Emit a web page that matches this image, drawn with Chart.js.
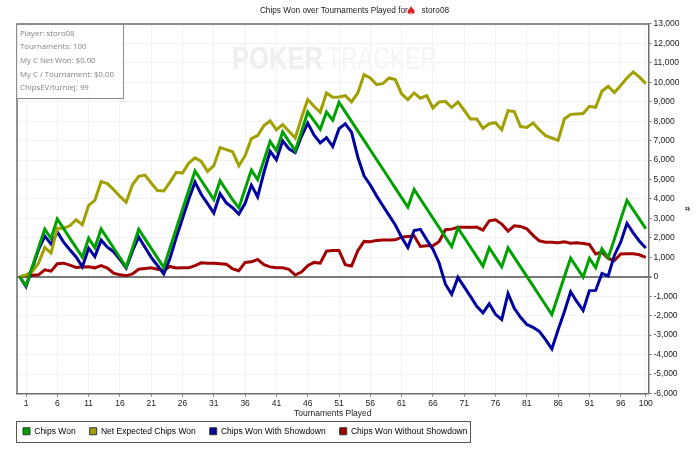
<!DOCTYPE html>
<html>
<head>
<meta charset="utf-8">
<title>Chips Won over Tournaments Played</title>
<script src="https://cdn.jsdelivr.net/npm/chart.js@4/dist/chart.umd.min.js"></script>
<style>
    html, body { margin: 0; padding: 0; background: #fff; }
    #chartBox { width: 700px; height: 454px; }
</style>
</head>
<body>
<div id="chartBox"><canvas id="chipsChart" width="700" height="454"></canvas></div>
<script>
// Chart data
const tournaments = [0,1,2,3,4,5,6,7,8,9,10,11,12,13,14,15,16,17,18,19,20,21,22,23,24,25,26,27,28,29,30,31,32,33,34,35,36,37,38,39,40,41,42,43,44,45,46,47,48,49,50,51,52,53,54,55,56,57,58,59,60,61,62,63,64,65,66,67,68,69,70,71,72,73,74,75,76,77,78,79,80,81,82,83,84,85,86,87,88,89,90,91,92,93,94,95,96,97,98,99,100];
const chipsWon = [0,-450,520,1490,2450,1970,2970,2480,1990,1500,1010,1980,1490,2460,1970,1480,990,500,1470,2440,1950,1460,970,480,1480,2470,3460,4450,5440,4950,4460,3970,4940,4450,3960,3540,4520,5480,5000,5980,6960,6480,7450,6960,6480,7450,8470,8030,7580,8470,8050,8970,8480,7990,7500,7010,6520,6030,5540,5050,4560,4070,3580,4490,4000,3510,3020,2530,2040,1550,2510,2020,1530,1040,550,1490,1000,510,1490,1000,510,20,-470,-960,-1450,-1940,-970,0,960,470,-20,950,470,1440,980,1950,2950,3930,3440,2960,2480];
const netExpected = [0,100,270,700,1510,1220,2500,2500,2620,2930,2680,3670,3930,4890,4790,4480,4130,3830,4730,5160,5230,4820,4430,4410,4870,5370,5330,5850,6110,5930,5420,5710,6640,6535,6430,5710,6225,7100,7255,7770,8010,7550,7820,7480,7135,8165,9110,8765,8460,9450,9230,9245,9310,8990,9450,10395,10220,9880,9930,10220,10140,9400,9110,9450,9180,9310,8680,8990,9020,8700,8990,8560,8110,8110,7630,7870,7920,7560,8540,8490,7720,7680,7910,7560,7255,7135,7015,8110,8350,8370,8390,8765,8710,9540,9790,9470,9830,10220,10530,10260,9930];
const withShowdown = [0,-500,440,1390,2090,1680,2300,1780,1390,1020,510,1470,1030,1880,1520,1290,890,450,1320,2050,1520,1000,580,150,950,2020,3000,3990,4870,4230,3760,3280,4270,3800,3550,3230,3780,4710,4110,5360,6450,6020,6990,6580,6390,7210,7900,7290,6880,7150,6695,7615,7860,7440,6160,5190,4720,4160,3650,3160,2660,2030,1505,2380,2440,1910,1420,710,-380,-900,-30,-520,-1010,-1515,-1850,-1390,-1930,-2200,-860,-1620,-2080,-2450,-2600,-2810,-3230,-3710,-2720,-1800,-770,-1280,-1735,-710,-700,170,40,1110,1780,2750,2260,1830,1480];
const withoutShowdown = [0,50,80,100,360,290,670,700,600,480,500,510,460,580,450,190,100,50,150,390,430,460,390,330,530,450,460,460,570,720,700,690,670,650,410,310,740,770,890,620,510,460,460,380,90,240,570,740,700,1320,1355,1355,620,550,1340,1820,1800,1870,1890,1890,1900,2040,2075,2110,1560,1600,1600,1820,2420,2450,2540,2540,2540,2555,2400,2880,2930,2710,2350,2620,2590,2470,2130,1850,1780,1770,1750,1800,1730,1750,1715,1660,1170,1270,940,840,1170,1180,1180,1130,1000];

const xTickValues = [1,6,11,16,21,26,31,36,41,46,51,56,61,66,71,76,81,86,91,96,100];
const seriesNames = ['Chips Won', 'Net Expected Chips Won', 'Chips Won With Showdown', 'Chips Won Without Showdown'];
const seriesColors = ['#00a000', '#a0a000', '#0000a0', '#a00000'];
const infoLines = ['Player: storo08', 'Tournaments: 100', 'My C Net Won: $0.00', 'My C / Tournament: $0.00', 'ChipsEV/turniej: 99'];

const titlePrefix = 'Chips Won over Tournaments Played for ';
const titleText = titlePrefix + '     storo08';
const axisFont = 'Liberation Sans';
const axisFontSize = 8.5;
const titleFontSize = 8.25;

function toPoints(values) {
    return values.map((v, i) => ({ x: tournaments[i], y: v }));
}

// Watermark under the lines, title spade and stats box over them
const decorations = {
    id: 'decorations',
    beforeDatasetsDraw(chart) {
        const ctx = chart.ctx;
        ctx.save();
        ctx.textBaseline = 'alphabetic';
        ctx.textAlign = 'left';
        ctx.fillStyle = '#eeeeee';
        ctx.font = 'bold 32px "Liberation Sans"';
        ctx.fillText('POKER', 232, 69, 91);
        ctx.fillStyle = '#f5f5f5';
        ctx.font = '32px "Liberation Sans"';
        ctx.fillText('TRACKER', 327, 69, 110);
        ctx.restore();
    },
    afterDraw(chart) {
        const ctx = chart.ctx;
        const area = chart.chartArea;
        ctx.save();

        // frame of the plot
        ctx.strokeStyle = '#6e6e6e';
        ctx.lineWidth = 1.5;
        ctx.beginPath();
        ctx.moveTo(area.left, area.bottom);
        ctx.lineTo(area.left, area.top);
        ctx.lineTo(area.right, area.top);
        ctx.stroke();

        // red spade inside the title
        ctx.font = titleFontSize + 'px "Liberation Sans"';
        const fullWidth = ctx.measureText(titleText).width;
        const spadeX = chart.width / 2 - fullWidth / 2 + ctx.measureText(titlePrefix).width;
        ctx.fillStyle = '#d9201c';
        ctx.font = '12px "DejaVu Sans"';
        ctx.textBaseline = 'middle';
        ctx.textAlign = 'left';
        ctx.fillText('\u2660', spadeX, 11.5);

        // stats box
        ctx.fillStyle = 'rgba(255,255,255,0.85)';
        ctx.fillRect(17, 24, 106.5, 74.5);
        ctx.strokeStyle = '#8c8c8c';
        ctx.lineWidth = 1;
        ctx.strokeRect(16.5, 24.5, 107, 74);
        ctx.fillStyle = '#85808c';
        ctx.font = '7.8px "Open Sans"';
        infoLines.forEach((line, i) => {
            ctx.fillText(line, 20, 33.5 + i * 13.6);
        });

        // frame of the legend
        ctx.strokeStyle = '#555';
        ctx.lineWidth = 1;
        ctx.strokeRect(16.5, 421.5, 454, 21);
        ctx.restore();
    },
    afterLayout(chart) {
        // legend row sits inside its own frame
        const pad = chart.legend.options.labels.padding;
        chart.legend.top = 432 - 5 - pad;
        chart.legend.left = 23 - pad;
    }
};

const chipsChart = new Chart(document.getElementById('chipsChart').getContext('2d'), {
    type: 'line',
    data: {
        datasets: [chipsWon, netExpected, withShowdown, withoutShowdown].map((values, i) => ({
            label: seriesNames[i],
            data: toPoints(values),
            borderColor: seriesColors[i],
            backgroundColor: seriesColors[i],
            borderWidth: 3,
            borderJoinStyle: 'miter',
            pointRadius: 0,
            tension: 0,
            fill: false
        }))
    },
    options: {
        responsive: false,
        animation: false,
        layout: { padding: { left: 17, right: 8, top: 0, bottom: 1 } },
        plugins: {
            tooltip: { enabled: false },
            title: {
                display: true,
                text: titleText,
                color: '#222',
                font: { family: axisFont, size: titleFontSize, weight: 'normal' },
                padding: { top: 6, bottom: 8 }
            },
            legend: {
                position: 'bottom',
                align: 'start',
                labels: {
                    color: '#222',
                    font: { family: axisFont, size: axisFontSize },
                    boxWidth: 7,
                    boxHeight: 7,
                    padding: 14,
                    generateLabels: chart => chart.data.datasets.map((d, i) => ({
                        text: d.label,
                        fillStyle: seriesColors[i],
                        strokeStyle: '#333',
                        lineWidth: 1,
                        datasetIndex: i
                    }))
                }
            }
        },
        scales: {
            x: {
                type: 'linear',
                min: -0.44,
                max: 100.44,
                afterBuildTicks: axis => { axis.ticks = xTickValues.map(v => ({ value: v })); },
                afterFit: axis => { axis.height = 27; },
                ticks: {
                    autoSkip: false,
                    maxRotation: 0,
                    padding: 2,
                    color: '#222',
                    font: { family: axisFont, size: axisFontSize },
                    callback: v => String(v)
                },
                grid: { color: '#f2f2f2', tickColor: '#6e6e6e', tickLength: 3, lineWidth: 1 },
                border: { color: '#6e6e6e', width: 1.5 },
                title: {
                    display: true,
                    text: 'Tournaments Played',
                    color: '#222',
                    font: { family: axisFont, size: axisFontSize },
                    padding: { top: 0, bottom: 1.5 }
                }
            },
            y: {
                position: 'right',
                min: -6000,
                max: 13000,
                afterFit: axis => { axis.width = 43.5; },
                ticks: {
                    stepSize: 1000,
                    padding: 2,
                    color: '#222',
                    font: { family: axisFont, size: axisFontSize },
                    callback: v => v.toLocaleString('en-US')
                },
                grid: {
                    color: ctx => ctx.tick && ctx.tick.value === 0 ? '#7a7a7a' : '#f2f2f2',
                    lineWidth: ctx => ctx.tick && ctx.tick.value === 0 ? 2 : 1,
                    tickColor: '#6e6e6e',
                    tickLength: 3
                },
                border: { color: '#6e6e6e', width: 1.5 },
                title: {
                    display: true,
                    text: '#',
                    color: '#222',
                    font: { family: axisFont, size: 8, weight: 'bold' },
                    padding: 0
                }
            }
        }
    },
    plugins: [decorations]
});
</script>
</body>
</html>
